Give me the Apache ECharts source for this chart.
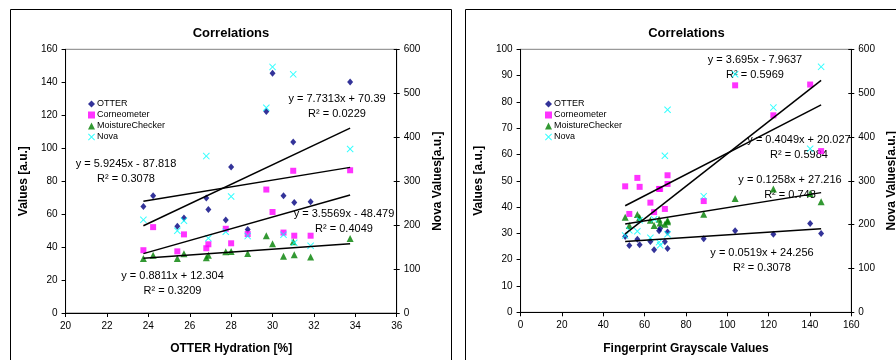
<!DOCTYPE html>
<html>
<head>
<meta charset="utf-8">
<script src="https://cdn.jsdelivr.net/npm/echarts@6/dist/echarts.min.js"></script>
<style>
  html, body { margin: 0; padding: 0; background: #fff; overflow: hidden; width: 896px; height: 360px; }
  .chart { position: absolute; top: 9px; height: 351px; }
</style>
</head>
<body>
<div id="left" class="chart" style="left:10px;width:442px"></div>
<div id="right" class="chart" style="left:465px;width:443px"></div>
<script>
// one entry per subject (16 subjects)
const hydration   = [23.76, 24.23, 25.4, 25.72, 26.8, 26.9, 27.74, 28.0, 28.8, 29.7, 30.0, 30.53, 31.0, 31.05, 31.84, 33.75];
const grayscale   = [64.6, 71.1, 52.6, 57.6, 69.8, 62.8, 56.5, 88.6, 50.6, 122.3, 145.4, 71.1, 103.8, 67.0, 67.5, 140.1];
const corneometer = [38.1, 52.1, 37.4, 47.7, 39.3, 41.7, 51.1, 42.3, 47.9, 74.9, 61.3, 48.8, 86.3, 46.9, 46.9, 86.6];
const moisture    = [33.0, 35.0, 33.0, 36.0, 33.5, 35.0, 37.2, 37.3, 36.1, 46.9, 42.0, 34.4, 43.3, 35.4, 34.0, 45.2];
const nova        = [212, 462, 187, 210, 357, 170, 185, 265, 175, 467, 560, 178, 543, 160, 153, 373];

const seriesNames = ['OTTER', 'Corneometer', 'MoistureChecker', 'Nova'];

// trendlines printed on the charts, same order as seriesNames
const hydSlope = [5.9245, 3.5569, 0.8811, 7.7313];
const hydIntercept = [-87.818, -48.479, 12.304, 70.39];
const hydR2 = ['0.3078', '0.4049', '0.3209', '0.0229'];

const graySlope = [0.0519, 0.4049, 0.1258, 3.695];
const grayIntercept = [24.256, 20.027, 27.216, -7.9637];
const grayR2 = ['0.3078', '0.5984', '0.748', '0.5969'];

const FONT = '"Liberation Sans", Arial, sans-serif';
const colors = ['#000080', '#FF00FF', '#008000', '#00FFFF'];
const symbols = ['diamond', 'rect', 'triangle',
  'path://M0,1L1,0L5,4L9,0L10,1L6,5L10,9L9,10L5,6L1,10L0,9L4,5Z'];
const symbolSizes = [[6, 7], 6, 7, 7];

function eqText(a, b) {
  return 'y = ' + a + 'x ' + (b < 0 ? '- ' : '+ ') + Math.abs(b);
}

function build(el, cfg) {
  const chart = echarts.init(document.getElementById(el), null, { renderer: 'canvas' });
  const xmin = Math.min(...cfg.x), xmax = Math.max(...cfg.x);

  const series = [];
  cfg.ys.forEach((ys, i) => {
    series.push({
      name: seriesNames[i],
      type: 'scatter',
      yAxisIndex: i === 3 ? 1 : 0,
      symbol: symbols[i],
      symbolSize: symbolSizes[i],
      itemStyle: { color: colors[i] },
      data: cfg.x.map((v, k) => [v, ys[k]]),
    });
  });
  cfg.slope.forEach((a, i) => {
    const b = cfg.intercept[i];
    series.push({
      name: seriesNames[i] + ' trend',
      type: 'line',
      yAxisIndex: i === 3 ? 1 : 0,
      showSymbol: false,
      silent: true,
      lineStyle: { color: '#000', width: 1.5 },
      data: [[xmin, a * xmin + b], [xmax, a * xmax + b]],
    });
  });

  const graphic = [{
    type: 'rect', silent: true,
    shape: { x: 0.5, y: 0.5, width: cfg.width - 1, height: 400 },
    style: { fill: 'none', stroke: '#000', lineWidth: 1 },
  }];
  cfg.labelPos.forEach((p, i) => {
    graphic.push({
      type: 'text', silent: true, x: p[0], y: p[1],
      style: { text: eqText(cfg.slope[i], cfg.intercept[i]), font: '11px ' + FONT, fill: '#000',
        textAlign: 'center', textVerticalAlign: 'middle' },
    });
    graphic.push({
      type: 'text', silent: true, x: p[0], y: p[1] + 15,
      style: { text: 'R\u00B2 = ' + cfg.r2[i], font: '11px ' + FONT, fill: '#000',
        textAlign: 'center', textVerticalAlign: 'middle' },
    });
  });

  const axisCommon = {
    axisLine: { show: true, lineStyle: { color: '#000', width: 1 } },
    axisTick: { show: true, length: 4, lineStyle: { color: '#000' } },
    splitLine: { show: false },
    axisLabel: { color: '#000', fontSize: 10, fontFamily: FONT },
    nameLocation: 'middle',
    nameTextStyle: { color: '#000', fontSize: 12, fontWeight: 'bold', fontFamily: FONT },
  };

  chart.setOption({
    animation: false,
    title: {
      text: 'Correlations', left: 'center', top: 13,
      textStyle: { fontSize: 13, fontWeight: 'bold', color: '#000', fontFamily: FONT },
    },
    legend: {
      data: seriesNames, orient: 'vertical', left: cfg.legendLeft, top: 90,
      padding: [0, 2, 0, 0], itemGap: 1, itemWidth: 7, itemHeight: 7,
      backgroundColor: '#fff',
      textStyle: { fontSize: 9, color: '#000', fontFamily: FONT, lineHeight: 10, padding: [0, 0, 0, -3] },
    },
    grid: {
      left: cfg.grid[0], top: cfg.grid[1], width: cfg.grid[2], height: cfg.grid[3],
      show: true, borderColor: '#808080', borderWidth: 1, backgroundColor: 'transparent',
    },
    xAxis: Object.assign({}, axisCommon, {
      type: 'value', min: cfg.xRange[0], max: cfg.xRange[1], interval: cfg.xRange[2],
      name: cfg.xName, nameGap: 30,
      axisLabel: Object.assign({}, axisCommon.axisLabel, { margin: 8 }),
    }),
    yAxis: [
      Object.assign({}, axisCommon, {
        type: 'value', min: 0, max: cfg.yMax, interval: cfg.yMax / (cfg.yMax === 160 ? 8 : 10),
        name: 'Values [a.u.]', nameRotate: 90, nameGap: cfg.nameGapL,
        axisLabel: Object.assign({}, axisCommon.axisLabel, { margin: 8 }),
      }),
      Object.assign({}, axisCommon, {
        type: 'value', min: 0, max: 600, interval: 100, position: 'right',
        name: 'Nova Values[a.u.]', nameRotate: 90, nameGap: cfg.nameGapR,
        axisTick: { show: true, length: 3, inside: false, lineStyle: { color: '#000' } },
        axisLabel: Object.assign({}, axisCommon.axisLabel, { margin: 7 }),
      }),
      // inner half of the crossing tick marks on the right axis
      {
        type: 'value', min: 0, max: 600, interval: 100, position: 'right',
        axisLine: { show: false }, splitLine: { show: false }, axisLabel: { show: false },
        axisTick: { show: true, inside: true, length: 3, lineStyle: { color: '#000' } },
      },
    ],
    graphic: graphic,
    series: series,
  });
  return chart;
}

build('left', {
  width: 442,
  x: hydration,
  ys: [grayscale, corneometer, moisture, nova],
  slope: hydSlope, intercept: hydIntercept, r2: hydR2,
  labelPos: [[116, 155], [334, 205], [162.5, 267], [327, 90]],
  grid: [43.3, 40.3, 343.4, 264],
  xRange: [20, 36, 2], yMax: 160,
  xName: 'OTTER Hydration [%]',
  legendLeft: 78, nameGapL: 26, nameGapR: 27,
});

build('right', {
  width: 443,
  x: grayscale,
  ys: [hydration, corneometer, moisture, nova],
  slope: graySlope, intercept: grayIntercept, r2: grayR2,
  labelPos: [[297, 244], [334, 131], [325, 171], [290, 51]],
  grid: [45.7, 40.3, 340.6, 263],
  xRange: [0, 160, 20], yMax: 100,
  xName: 'Fingerprint Grayscale Values',
  legendLeft: 80, nameGapL: 26, nameGapR: 27,
});
</script>
</body>
</html>
